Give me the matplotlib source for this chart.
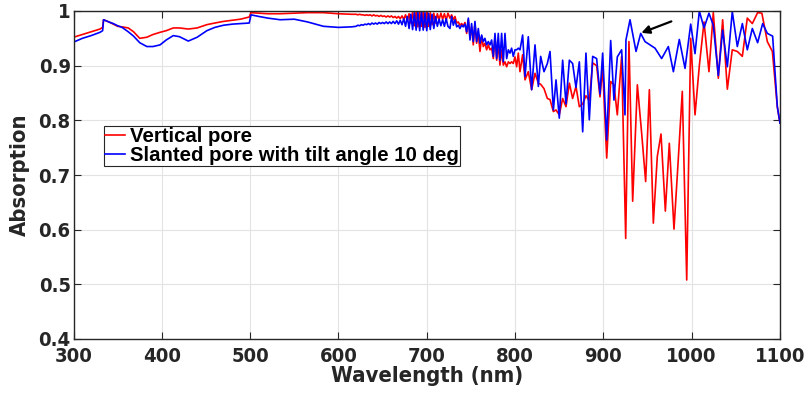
import matplotlib
matplotlib.use("Agg")
import matplotlib.pyplot as plt
from matplotlib import font_manager
from matplotlib.font_manager import FontProperties

# ---------------- data ----------------
wl_smooth = [300, 310, 320, 330, 333, 334, 340, 345, 350, 355, 362, 368, 375, 383, 390,
             398, 405, 413, 420, 430, 440, 451, 460, 470, 480, 489, 499, 501, 510, 520,
             534, 550, 565, 583, 600, 615]
red_smooth = [0.952, 0.957, 0.962, 0.967, 0.970, 0.984, 0.980, 0.976, 0.972, 0.971, 0.969,
              0.962, 0.950, 0.952, 0.957, 0.961, 0.964, 0.969, 0.969, 0.967, 0.969, 0.975,
              0.978, 0.981, 0.983, 0.985, 0.989, 0.997, 0.996, 0.995, 0.995, 0.996, 0.997,
              0.997, 0.995, 0.994]
blue_smooth = [0.943, 0.950, 0.955, 0.961, 0.964, 0.984, 0.980, 0.977, 0.973, 0.970, 0.962,
               0.954, 0.942, 0.935, 0.935, 0.938, 0.947, 0.955, 0.953, 0.945, 0.952, 0.964,
               0.970, 0.974, 0.976, 0.977, 0.978, 0.993, 0.990, 0.987, 0.984, 0.985, 0.980,
               0.972, 0.970, 0.971]

wl_b = list(range(620, 726, 2))
red_b = [0.994, 0.993, 0.994, 0.993, 0.993, 0.992, 0.993, 0.992, 0.993, 0.991, 0.993, 0.991,
         0.992, 0.990, 0.992, 0.990, 0.991, 0.989, 0.991, 0.989, 0.991, 0.988, 0.990, 0.987,
         0.990, 0.986, 0.991, 0.985, 0.993, 0.982, 0.995, 0.978, 0.998, 0.973, 0.999, 0.971,
         0.999, 0.972, 0.999, 0.970, 0.998, 0.972, 0.997, 0.975, 0.996, 0.978, 0.995, 0.984,
         0.996, 0.985, 0.995, 0.983, 0.996]
blue_b = [0.972, 0.974, 0.973, 0.975, 0.974, 0.976, 0.975, 0.977, 0.975, 0.978, 0.976, 0.978,
          0.976, 0.979, 0.977, 0.979, 0.977, 0.980, 0.977, 0.980, 0.977, 0.981, 0.977, 0.982,
          0.976, 0.983, 0.975, 0.986, 0.972, 0.990, 0.968, 0.994, 0.966, 0.997, 0.965, 0.998,
          0.964, 0.998, 0.965, 0.997, 0.964, 0.996, 0.966, 0.994, 0.968, 0.990, 0.972, 0.985,
          0.973, 0.984, 0.972, 0.986, 0.972]

wl_c = [726.3, 728.2, 730.1, 732.0, 733.9, 735.7, 737.6, 739.5, 741.4, 743.3, 745.2, 747.1,
        749.0, 750.8, 752.7, 754.6, 756.5, 758.4, 760.3, 762.2, 764.0, 765.9, 767.8, 769.7,
        771.6, 773.5, 775.4, 777.3, 779.2, 781.0, 782.9, 784.8, 786.7, 788.6, 790.5, 792.4,
        794.3, 796.1, 798.0, 799.9, 801.8, 803.7]
red_c = [0.987, 0.993, 0.984, 0.990, 0.978, 0.980, 0.974, 0.977, 0.973, 0.979, 0.959, 0.984,
         0.953, 0.971, 0.938, 0.977, 0.941, 0.959, 0.926, 0.953, 0.935, 0.941, 0.929, 0.938,
         0.929, 0.932, 0.913, 0.953, 0.910, 0.941, 0.901, 0.929, 0.901, 0.907, 0.898, 0.907,
         0.904, 0.907, 0.904, 0.916, 0.898, 0.923]
blue_c = [0.968, 0.990, 0.974, 0.984, 0.971, 0.974, 0.968, 0.974, 0.971, 0.976, 0.962, 0.987,
          0.947, 0.977, 0.944, 0.981, 0.944, 0.968, 0.941, 0.956, 0.944, 0.950, 0.938, 0.944,
          0.938, 0.947, 0.917, 0.959, 0.913, 0.959, 0.910, 0.959, 0.907, 0.959, 0.913, 0.929,
          0.923, 0.932, 0.917, 0.929, 0.929, 0.932]

wl_d = [805.6, 808.6, 811.3, 815.0, 818.8, 822.6, 826.4, 829.0, 832.8, 836.6, 839.6, 843.4,
        846.4, 850.1, 853.9, 857.7, 861.5, 865.2, 869.0, 872.8, 876.6, 880.3, 884.1, 887.9,
        892.4, 896.2]
red_d = [0.889, 0.920, 0.874, 0.889, 0.856, 0.886, 0.868, 0.866, 0.858, 0.840, 0.838, 0.816,
         0.819, 0.810, 0.840, 0.825, 0.868, 0.840, 0.862, 0.825, 0.830, 0.845, 0.836, 0.905,
         0.900, 0.843]
blue_d = [0.929, 0.956, 0.880, 0.953, 0.856, 0.938, 0.862, 0.917, 0.889, 0.904, 0.926, 0.819,
          0.874, 0.804, 0.910, 0.830, 0.910, 0.904, 0.860, 0.907, 0.779, 0.923, 0.801, 0.917,
          0.913, 0.848]

wl_e_red = [899.2, 903.8, 908.3, 912.0, 915.8, 920.7, 925.3, 929.0, 933.2, 938.5, 943.4, 947.9,
            952.1, 956.6, 961.1, 965.3, 970.2, 974.7, 980.0, 984.9, 989.4, 994.4, 998.9, 1003.8,
            1008.7, 1014.0, 1019.6, 1024.5, 1030.2, 1035.1, 1040.4, 1046.0, 1051.7, 1057.4,
            1063.0, 1068.7, 1074.7, 1079.5, 1085.7, 1091.4, 1097.0, 1100.0]
red_e = [0.897, 0.731, 0.871, 0.865, 0.810, 0.917, 0.584, 0.944, 0.652, 0.865, 0.776, 0.688,
         0.856, 0.612, 0.734, 0.775, 0.634, 0.758, 0.601, 0.730, 0.853, 0.508, 0.950, 0.810,
         0.900, 0.980, 0.889, 0.997, 0.877, 0.984, 0.857, 0.929, 0.926, 0.917, 0.987, 0.977,
         0.997, 0.996, 0.944, 0.926, 0.825, 0.795]
wl_e_blue = [899.2, 903.8, 908.3, 912.0, 915.8, 920.7, 924.5, 925.6, 930.2, 937.0, 942.3, 947.2,
             952.8, 958.5, 966.0, 973.6, 979.3, 986.0, 992.5, 998.9, 1003.8, 1008.7, 1014.0,
             1019.6, 1024.5, 1030.2, 1035.1, 1040.4, 1046.0, 1051.7, 1057.4, 1063.0, 1068.7,
             1074.7, 1080.4, 1085.7, 1091.7, 1097.0, 1100.0]
blue_e = [0.923, 0.764, 0.946, 0.837, 0.916, 0.929, 0.810, 0.947, 0.984, 0.926, 0.959, 0.944,
          0.938, 0.932, 0.913, 0.935, 0.889, 0.948, 0.895, 0.976, 0.922, 1.000, 0.969, 0.996,
          0.974, 0.882, 0.965, 0.898, 0.999, 0.935, 0.977, 0.929, 0.968, 0.942, 0.977, 0.959,
          0.954, 0.825, 0.795]

labels = ["Vertical pore", "Slanted pore with tilt angle 10 deg"]
x_ticks = [300, 400, 500, 600, 700, 800, 900, 1000, 1100]
y_ticks = [0.4, 0.5, 0.6, 0.7, 0.8, 0.9, 1.0]
y_ticklabels = ["0.4", "0.5", "0.6", "0.7", "0.8", "0.9", "1"]
arrow_tail = (977.0, 0.981)
arrow_head = (943.0, 0.960)

wl_red = wl_smooth + wl_b + wl_c + wl_d + wl_e_red
red = red_smooth + red_b + red_c + red_d + red_e
wl_blue = wl_smooth + wl_b + wl_c + wl_d + wl_e_blue
blue = blue_smooth + blue_b + blue_c + blue_d + blue_e

# ---------------- fonts: look for a condensed bold face ----------------
def find_condensed():
    prefs = ["Liberation Sans Narrow", "Arial Narrow", "Noto Sans", "DejaVu Sans",
             "Roboto", "Open Sans", "Lato", "Inter"]
    cands = []
    for f in font_manager.fontManager.ttflist:
        fn = f.fname.lower()
        narrow = (f.stretch not in ("normal", 500)) or ("condensed" in fn) or ("narrow" in fn)
        if not narrow or "italic" in fn or "oblique" in fn:
            continue
        if "extra" in fn or "ultra" in fn or "semi" in fn:
            continue
        w = f.weight if isinstance(f.weight, int) else (700 if "bold" in str(f.weight) else 400)
        if w < 600 or w > 750:
            continue
        rank = len(prefs)
        for i, p in enumerate(prefs):
            if f.name.startswith(p):
                rank = i
                break
        cands.append((rank, f.fname))
    if cands:
        cands.sort()
        return FontProperties(fname=cands[0][1])
    return None

cond = find_condensed()
plt.rcParams["font.family"] = ["Liberation Sans", "DejaVu Sans"]

def fp(size):
    if cond is not None:
        p = cond.copy()
        p.set_size(size)
        return p
    return FontProperties(family="Liberation Sans", weight="bold", size=size * 0.85)

fig = plt.figure(figsize=(8.06, 4.0), dpi=100)
ax = fig.add_axes([0.0912, 0.1525, 0.8765, 0.82])

ax.plot(wl_red, red, color=(1, 0, 0), lw=1.2, label=labels[0])
ax.plot(wl_blue, blue, color=(0, 0, 1), lw=1.2, label=labels[1])

ax.set_xlim(300, 1100)
ax.set_ylim(0.4, 1.0)
ax.set_xticks(x_ticks)
ax.set_yticks(y_ticks)
ax.set_yticklabels(y_ticklabels)
ax.grid(True, color="#e3e3e3", lw=0.8)
ax.set_axisbelow(True)
for s in ax.spines.values():
    s.set_color("#262626")
    s.set_linewidth(1.0)
ax.tick_params(direction="in", top=True, right=True, length=5, width=0.8,
               colors="#262626", labelcolor="#262626")
ax.tick_params(axis="x", pad=6)
ax.tick_params(axis="y", pad=2)
for lab in ax.get_xticklabels() + ax.get_yticklabels():
    lab.set_fontproperties(fp(14.5))

ax.set_xlabel("Wavelength (nm)", fontproperties=fp(15.8), color="#262626", labelpad=0)
ax.set_ylabel("Absorption", fontproperties=fp(15.8), color="#262626", labelpad=6)

ax.annotate("", xy=arrow_head, xytext=arrow_tail,
            arrowprops=dict(arrowstyle="-|>", color="black", lw=1.6, mutation_scale=12,
                            shrinkA=0, shrinkB=0))

leg = ax.legend(loc="upper left", bbox_to_anchor=(0.043, 0.65), frameon=True, fancybox=False,
                edgecolor="#262626", framealpha=1, borderpad=0.05, labelspacing=0.0,
                handlelength=1.0, handletextpad=0.25, borderaxespad=0,
                prop=dict(family="Liberation Sans", weight="bold", size=14.7))
leg.get_frame().set_linewidth(0.8)

fig.savefig("out.png", dpi=100)
